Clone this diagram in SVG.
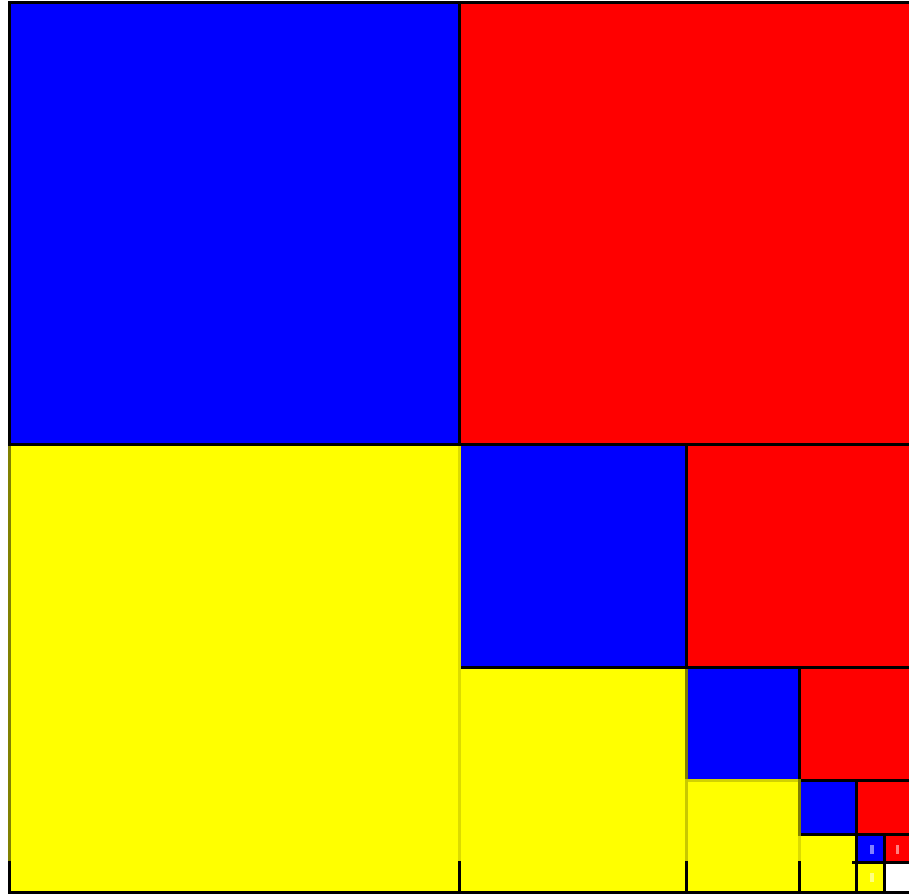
<svg xmlns="http://www.w3.org/2000/svg" width="909" height="894" viewBox="0 0 909 894" shape-rendering="crispEdges">
<style>
.b{fill:#0000ff}.r{fill:#ff0000}.y{fill:#ffff00}.w{fill:#ffffff}
.k{fill:#000000}.o{fill:#808000}.l1{fill:#dcdc00}.l2{fill:#c8c800}.l3{fill:#d2d200}
</style>
<rect width="909" height="894" fill="#ffffff"/>
<g id="level1">
<rect id="blue1" class="b" x="11" y="4" width="447" height="439"/>
<rect id="red1" class="r" x="461" y="4" width="448" height="439"/>
<rect id="yellow1" class="y" x="11" y="446" width="447" height="445"/>
</g>
<g id="level2">
<rect id="blue2" class="b" x="461" y="446" width="224" height="220"/>
<rect id="red2" class="r" x="688" y="446" width="221" height="220"/>
<rect id="yellow2" class="y" x="461" y="669" width="224" height="222"/>
</g>
<g id="level3">
<rect id="blue3" class="b" x="688" y="669" width="110" height="110"/>
<rect id="red3" class="r" x="801" y="669" width="108" height="110"/>
<rect id="yellow3" class="y" x="688" y="782" width="110" height="109"/>
</g>
<g id="level4">
<rect id="blue4" class="b" x="801" y="782" width="54" height="51"/>
<rect id="red4" class="r" x="858" y="782" width="51" height="51"/>
<rect id="yellow4" class="y" x="801" y="836" width="54" height="55"/>
</g>
<g id="level5">
<rect id="blue5" class="b" x="858" y="836" width="25" height="25"/>
<rect id="red5" class="r" x="886" y="836" width="23" height="25"/>
<rect id="yellow5" class="y" x="858" y="864" width="25" height="27"/>
<rect id="white5" class="w" x="886" y="864" width="23" height="27"/>
<rect x="870" y="845" width="4" height="9" fill="#8080ff"/>
<rect x="896" y="845" width="3" height="9" fill="#ff8080"/>
<rect x="870" y="873" width="4" height="9" fill="#ffff80"/>
</g>
<g id="connectors">
<rect class="k" x="8" y="1" width="901" height="3"/>
<rect class="k" x="8" y="891" width="901" height="3"/>
<rect class="k" x="8" y="1" width="3" height="445"/>
<rect class="o" x="8" y="446" width="3" height="415"/>
<rect class="k" x="8" y="861" width="3" height="33"/>
<rect class="k" x="8" y="443" width="901" height="3"/>
<rect class="k" x="458" y="1" width="3" height="445"/>
<rect class="l1" x="458" y="446" width="3" height="415"/>
<rect class="k" x="458" y="861" width="3" height="33"/>
<rect class="k" x="461" y="666" width="448" height="3"/>
<rect class="k" x="685" y="443" width="3" height="226"/>
<rect class="o" x="685" y="669" width="3" height="110"/>
<rect class="l2" x="685" y="779" width="3" height="82"/>
<rect class="k" x="685" y="861" width="3" height="33"/>
<rect class="k" x="798" y="779" width="111" height="3"/>
<rect class="l3" x="688" y="779" width="110" height="3"/>
<rect class="k" x="798" y="666" width="3" height="113"/>
<rect class="o" x="798" y="779" width="3" height="57"/>
<rect class="l1" x="798" y="836" width="3" height="25"/>
<rect class="k" x="798" y="861" width="3" height="33"/>
<rect class="k" x="801" y="833" width="108" height="3"/>
<rect class="k" x="855" y="779" width="3" height="115"/>
<rect class="k" x="852" y="861" width="57" height="3"/>
<rect class="k" x="883" y="833" width="3" height="61"/>
</g>
</svg>
